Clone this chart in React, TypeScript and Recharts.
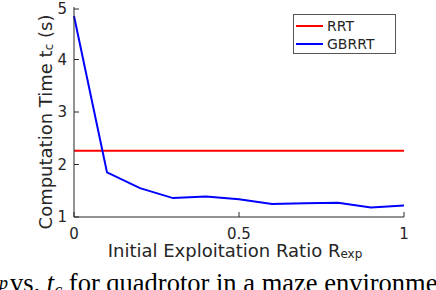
import React from "react";
import { LineChart, Line, XAxis, YAxis, ReferenceLine } from "recharts";

// exploitation ratio R_exp
const ratios = [0, 0.1, 0.2, 0.3, 0.4, 0.5, 0.6, 0.7, 0.8, 0.9, 1.0];
// GBRRT computation time (s)
const gbrrtTimes = [4.83, 1.85, 1.55, 1.36, 1.39, 1.34, 1.25, 1.26, 1.27, 1.18, 1.22];
// RRT baseline (s)
const rrtTime = 2.26;

const xTicks = [0, 0.5, 1];
const xTickLabels = ["0", "0.5", "1"];
const yTicks = [1, 2, 3, 4, 5];

const legendItems = [
  { name: "RRT", color: "#ff0000" },
  { name: "GBRRT", color: "#0000ff" },
];

const data = ratios.map((r, i) => ({ r, gbrrt: gbrrtTimes[i] }));

const FONT = "'DejaVu Sans', sans-serif";
const INK = "#262626";

const YTick = ({ x, y, payload }: any) => (
  <g>
    <text x={x} y={y} dy={5} textAnchor="end" fontSize={15} fill={INK} fontFamily={FONT}>
      {payload.value}
    </text>
    <line x1={x + 7} x2={x + 12} y1={y} y2={y} stroke={INK} strokeWidth={1} />
  </g>
);

const XTick = ({ x, y, payload, index }: any) => (
  <g>
    <text x={x} y={y} dy={15} textAnchor="middle" fontSize={15} fill={INK} fontFamily={FONT}>
      {xTickLabels[index] ?? payload.value}
    </text>
    <line x1={x} x2={x} y1={y - 7} y2={y - 12} stroke={INK} strokeWidth={1} />
  </g>
);

const RightTick = ({ x, y }: any) => (
  <line x1={x - 7} x2={x - 12} y1={y} y2={y} stroke={INK} strokeWidth={1} />
);

const TopTick = ({ x, y }: any) => (
  <line x1={x} x2={x} y1={y + 7} y2={y + 12} stroke={INK} strokeWidth={1} />
);

// axis titles with subscripts
const XTitle = ({ viewBox }: any) => (
  <text
    x={viewBox.x + viewBox.width / 2 - 4}
    y={viewBox.y + 40}
    textAnchor="middle"
    fontSize={18}
    fill={INK}
    fontFamily={FONT}
  >
    Initial Exploitation Ratio R
    <tspan fontSize={12} dy={1}>exp</tspan>
  </text>
);

const YTitle = ({ viewBox }: any) => {
  const cx = 52;
  const cy = viewBox.y + viewBox.height / 2 + 10;
  return (
    <text
      x={cx}
      y={cy}
      transform={`rotate(-90, ${cx}, ${cy})`}
      textAnchor="middle"
      fontSize={18}
      fill={INK}
      fontFamily={FONT}
    >
      Computation Time t
      <tspan fontSize={12} dy={1}>c</tspan>
      <tspan dy={-1}> (s)</tspan>
    </text>
  );
};

export default function App() {
  return (
    <div
      style={{
        position: "fixed",
        left: 0,
        top: 0,
        width: 436,
        height: 290,
        overflow: "hidden",
        background: "#fff",
      }}
    >
      <LineChart
        width={436}
        height={290}
        data={data}
        margin={{ top: 7, right: 32, left: 0, bottom: 0 }}
      >
        <XAxis
          dataKey="r"
          type="number"
          domain={[0, 1]}
          ticks={xTicks}
          tick={<XTick />}
          tickLine={false}
          tickSize={0}
          tickMargin={7}
          stroke={INK}
          height={73}
          label={<XTitle />}
        />
        <XAxis
          xAxisId="top"
          dataKey="r"
          type="number"
          orientation="top"
          domain={[0, 1]}
          ticks={xTicks}
          tick={<TopTick />}
          tickLine={false}
          tickSize={0}
          tickMargin={0}
          stroke={INK}
          height={0}
        />
        <YAxis
          type="number"
          domain={[1, 5]}
          ticks={yTicks}
          tick={<YTick />}
          tickLine={false}
          tickSize={0}
          tickMargin={7}
          stroke={INK}
          width={74}
          allowDataOverflow
          label={<YTitle />}
        />
        <YAxis
          yAxisId="right"
          orientation="right"
          type="number"
          domain={[1, 5]}
          ticks={yTicks}
          tick={<RightTick />}
          tickLine={false}
          tickSize={0}
          tickMargin={0}
          stroke="#b0b0b0"
          strokeWidth={2}
          width={0}
        />
        <ReferenceLine y={rrtTime} stroke="#ff0000" strokeWidth={2} />
        <Line
          type="linear"
          dataKey="gbrrt"
          stroke="#0000ff"
          strokeWidth={2}
          dot={false}
          isAnimationActive={false}
        />
      </LineChart>

      {/* legend */}
      <div
        style={{
          position: "absolute",
          left: 293,
          top: 14,
          width: 103,
          height: 40,
          border: "1px solid #555",
          background: "#fff",
          boxSizing: "border-box",
          fontFamily: FONT,
          fontSize: 14,
          color: INK,
          padding: "2px 0 0 2px",
          lineHeight: "18px",
        }}
      >
        {legendItems.map((s) => (
          <div key={s.name} style={{ display: "flex", alignItems: "center" }}>
            <span
              style={{
                display: "inline-block",
                width: 27,
                height: 2,
                background: s.color,
                marginRight: 4,
              }}
            />
            {s.name}
          </div>
        ))}
      </div>

      {/* figure caption, cut by the crop */}
      <div
        style={{
          position: "absolute",
          right: 428,
          top: 274,
          whiteSpace: "nowrap",
          fontFamily: "'Liberation Serif', serif",
          fontStyle: "italic",
          fontSize: 18,
          lineHeight: "18px",
          color: "#000",
        }}
      >
        exp
      </div>
      <div
        style={{
          position: "absolute",
          left: 10,
          top: 270,
          whiteSpace: "nowrap",
          fontFamily: "'Liberation Serif', serif",
          fontSize: 26.5,
          lineHeight: "26px",
          color: "#000",
        }}
      >
        vs. <i>t</i>
        <i style={{ fontSize: 18, position: "relative", top: 4 }}>c</i> for quadrotor in a maze
        environment.
      </div>
    </div>
  );
}
